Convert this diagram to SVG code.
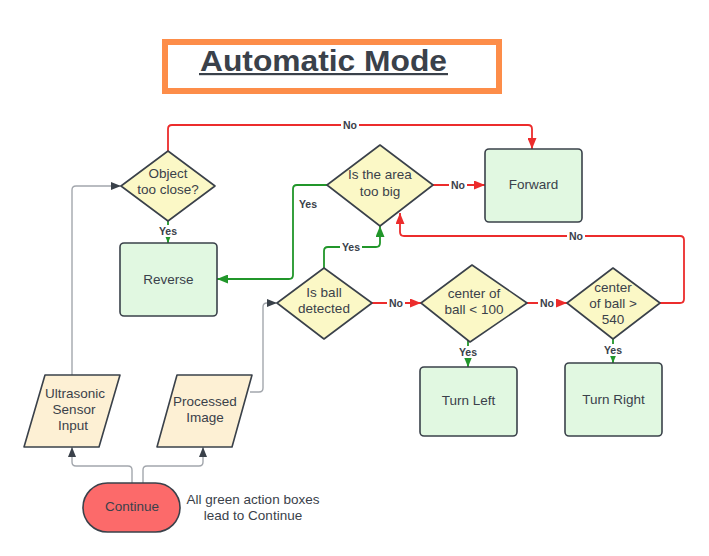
<svg xmlns="http://www.w3.org/2000/svg" width="709" height="556" viewBox="0 0 709 556">
<style>
.txt{font-family:"Liberation Sans",Arial,sans-serif;font-size:13.5px;fill:#3a414a;text-anchor:middle}
.lbl{font-family:"Liberation Sans",Arial,sans-serif;font-size:10.5px;font-weight:bold;fill:#3a414a;text-anchor:middle}
.dia{fill:#fbf8c6;stroke:#3a414a;stroke-width:1.6;stroke-linejoin:round}
.box{fill:#e1f8e1;stroke:#3a414a;stroke-width:1.6}
.io{fill:#fdf0d4;stroke:#3a414a;stroke-width:1.6;stroke-linejoin:round}
.red{fill:none;stroke:#ec2c2c;stroke-width:1.8;marker-end:url(#ar)}
.grn{fill:none;stroke:#21962a;stroke-width:1.8;marker-end:url(#ag)}
.gry{fill:none;stroke:#a3a7ad;stroke-width:1.4;marker-end:url(#ak)}
.bg{fill:#ffffff}
</style>
<defs>
<marker id="ar" markerUnits="userSpaceOnUse" markerWidth="11" markerHeight="9" refX="11" refY="4.5" orient="auto"><path d="M0,0 L11,4.5 L0,9 z" fill="#ec2c2c"/></marker>
<marker id="ag" markerUnits="userSpaceOnUse" markerWidth="11" markerHeight="9" refX="11" refY="4.5" orient="auto"><path d="M0,0 L11,4.5 L0,9 z" fill="#21962a"/></marker>
<marker id="ak" markerUnits="userSpaceOnUse" markerWidth="10" markerHeight="8" refX="10" refY="4" orient="auto"><path d="M0,0 L10,4 L0,8 z" fill="#3a414a"/></marker>
</defs>
<rect width="709" height="556" fill="#ffffff"/>

<g id="title">
<rect x="165" y="42" width="334" height="49" fill="#ffffff" stroke="#fd8d49" stroke-width="6"/>
<text x="323.5" y="71" font-family="Liberation Sans,Arial,sans-serif" font-size="30" font-weight="bold" fill="#3a414a" text-anchor="middle" textLength="247" lengthAdjust="spacingAndGlyphs">Automatic Mode</text>
<rect x="199" y="73" width="249" height="2.2" fill="#3a414a"/>
</g>

<g id="connectors">
<path class="gry" d="M132,483 V470 Q132,466 128,466 H76 Q72,466 72,462 V447"/>
<path class="gry" d="M143,483 V470 Q143,466 147,466 H199 Q203,466 203,462 V447"/>
<path class="gry" d="M72,375 V190 Q72,186 76,186 H121"/>
<path class="gry" d="M250,392 H259 Q263,392 263,388 V307 Q263,303 267,303 H277"/>

<path class="red" d="M168,151 V129 Q168,125 172,125 H528 Q532,125 532,129 V149"/>
<path class="red" d="M433,185 H485"/>
<path class="red" d="M372,303 H421"/>
<path class="red" d="M527,303 H567"/>
<path class="red" d="M660,303 H680 Q684,303 684,299 V240 Q684,236 680,236 H404 Q400,236 400,232 V213"/>

<path class="grn" d="M168,221 V243"/>
<path class="grn" d="M327,185 H297 Q293,185 293,189 V275 Q293,279 289,279 H217"/>
<path class="grn" d="M324,268 V251 Q324,247 328,247 H376 Q380,247 380,243 V226"/>
<path class="grn" d="M468,341 V367"/>
<path class="grn" d="M613,339 V363"/>

<rect class="bg" x="341" y="119" width="18" height="12"/><text class="lbl" x="350" y="129">No</text>
<rect class="bg" x="449" y="179" width="18" height="12"/><text class="lbl" x="458" y="189">No</text>
<rect class="bg" x="387" y="297" width="18" height="12"/><text class="lbl" x="396" y="307">No</text>
<rect class="bg" x="538" y="297" width="18" height="12"/><text class="lbl" x="547" y="307">No</text>
<rect class="bg" x="567" y="230" width="18" height="12"/><text class="lbl" x="576" y="240">No</text>
<rect class="bg" x="157" y="225" width="22" height="12"/><text class="lbl" x="168" y="235">Yes</text>
<text class="lbl" x="308" y="208">Yes</text>
<rect class="bg" x="340" y="241" width="22" height="12"/><text class="lbl" x="351" y="251">Yes</text>
<rect class="bg" x="457" y="346" width="22" height="12"/><text class="lbl" x="468" y="356">Yes</text>
<rect class="bg" x="602" y="344" width="22" height="12"/><text class="lbl" x="613" y="354">Yes</text>
</g>

<g id="object-too-close">
<path class="dia" d="M168,151 L215,186 L168,221 L121,186 Z"/>
<text class="txt" x="168" y="178">Object</text>
<text class="txt" x="168" y="194">too close?</text>
</g>

<g id="reverse">
<rect class="box" x="120" y="243" width="97" height="73" rx="4"/>
<text class="txt" x="168.5" y="284">Reverse</text>
</g>

<g id="area-too-big">
<path class="dia" d="M380,145 L433,185 L380,226 L327,185 Z"/>
<text class="txt" x="380" y="179">Is the area</text>
<text class="txt" x="380" y="196">too big</text>
</g>

<g id="forward">
<rect class="box" x="485" y="149" width="97" height="73" rx="4"/>
<text class="txt" x="533.5" y="189">Forward</text>
</g>

<g id="ball-detected">
<path class="dia" d="M324,268 L372,303 L324,339 L277,303 Z"/>
<text class="txt" x="324" y="297">Is ball</text>
<text class="txt" x="324" y="313">detected</text>
</g>

<g id="center-lt-100">
<path class="dia" d="M472,265 L527,303 L470,342 L421,303 Z"/>
<text class="txt" x="474" y="298">center of</text>
<text class="txt" x="474" y="314">ball &lt; 100</text>
</g>

<g id="center-gt-540">
<path class="dia" d="M613,268 L660,303 L613,339 L567,303 Z"/>
<text class="txt" x="613" y="292">center</text>
<text class="txt" x="613" y="308">of ball &gt;</text>
<text class="txt" x="613" y="324">540</text>
</g>

<g id="turn-left">
<rect class="box" x="420" y="367" width="97" height="69" rx="4"/>
<text class="txt" x="468.5" y="405">Turn Left</text>
</g>

<g id="turn-right">
<rect class="box" x="565" y="363" width="97" height="73" rx="4"/>
<text class="txt" x="613.5" y="404">Turn Right</text>
</g>

<g id="ultrasonic-input">
<path class="io" d="M45,375 L120,375 L99,447 L24,447 Z"/>
<text class="txt" x="75" y="398">Ultrasonic</text>
<text class="txt" x="74" y="414">Sensor</text>
<text class="txt" x="73" y="430">Input</text>
</g>

<g id="processed-image">
<path class="io" d="M177,375 L252,375 L232,447 L157,447 Z"/>
<text class="txt" x="205" y="406">Processed</text>
<text class="txt" x="205" y="422">Image</text>
</g>

<g id="continue">
<rect x="83" y="483" width="97" height="49" rx="24.5" fill="#fc6a6a" stroke="#3a414a" stroke-width="1.6"/>
<text class="txt" x="132" y="511">Continue</text>
</g>

<g id="note">
<text class="txt" x="253" y="504">All green action boxes</text>
<text class="txt" x="253" y="520">lead to Continue</text>
</g>
</svg>
